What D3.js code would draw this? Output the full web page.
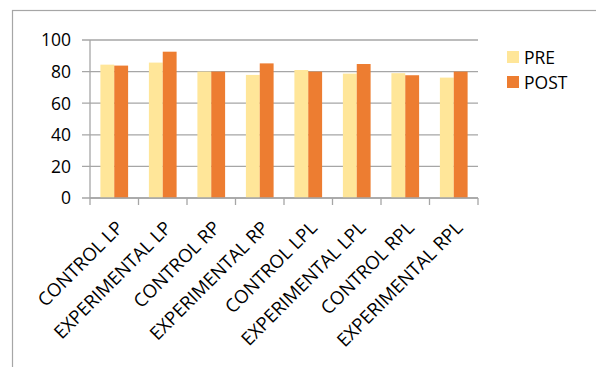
<!DOCTYPE html>
<html>
<head>
<meta charset="utf-8">
<script src="https://cdn.jsdelivr.net/npm/d3@7"></script>
<style>
  html, body { margin: 0; padding: 0; background: #fff; }
  svg { display: block; font-family: "Open Sans", Lato, sans-serif; }
</style>
</head>
<body>
<svg id="chart" width="596" height="367"></svg>
<script>
// Group scores before and after the intervention
const categories = ["CONTROL LP", "EXPERIMENTAL LP", "CONTROL RP", "EXPERIMENTAL RP",
                    "CONTROL LPL", "EXPERIMENTAL LPL", "CONTROL RPL", "EXPERIMENTAL RPL"];
const preValues  = [84.4, 85.7, 80.0, 77.9, 81.0, 78.7, 79.0, 76.2];
const postValues = [83.8, 92.6, 80.0, 85.2, 80.0, 84.8, 77.7, 80.0];
const seriesNames = ["PRE", "POST"];
const yTicks = [0, 20, 40, 60, 80, 100];

const colors = { PRE: "#FFE699", POST: "#ED7D31" };
const gridColor = "#A6A6A6";
const fontSize = 17.5;
const labelFontSize = 18.5;

const svg = d3.select("#chart");

// outer chart frame
svg.append("rect")
  .attr("x", 12.5).attr("y", 10.5)
  .attr("width", 700).attr("height", 700)
  .attr("fill", "none").attr("stroke", "#A6A6A6").attr("stroke-width", 1.2);

const plot = { left: 90, right: 478, top: 40, bottom: 198 };

const x = d3.scaleBand()
  .domain(categories)
  .range([plot.left, plot.right])
  .paddingInner(0).paddingOuter(0);

// Excel-style 150% gap width: two bars plus 1.5 bar widths of gap per category
const barW = x.bandwidth() / 3.5;
const xs = d3.scaleBand().domain(seriesNames).range([0, barW * 2]);

const y = d3.scaleLinear().domain([0, 100]).range([plot.bottom, plot.top]);

// horizontal gridlines
svg.append("g")
  .selectAll("line")
  .data(yTicks)
  .join("line")
  .attr("x1", plot.left - 8).attr("x2", plot.right)
  .attr("y1", d => y(d)).attr("y2", d => y(d))
  .attr("stroke", gridColor).attr("stroke-width", 1.3);

// y axis line
svg.append("line")
  .attr("x1", plot.left).attr("x2", plot.left)
  .attr("y1", y(100)).attr("y2", plot.bottom)
  .attr("stroke", gridColor).attr("stroke-width", 1.3);

// y tick labels
svg.append("g")
  .selectAll("text")
  .data(yTicks)
  .join("text")
  .attr("x", 71).attr("y", d => y(d))
  .attr("dy", "0.36em")
  .attr("text-anchor", "end")
  .attr("font-size", fontSize)
  .attr("fill", "#000")
  .text(d => d);

// bars
const rows = categories.map((c, i) => ({ cat: c, PRE: preValues[i], POST: postValues[i] }));
const groups = svg.append("g")
  .selectAll("g")
  .data(rows)
  .join("g")
  .attr("transform", d => `translate(${x(d.cat) + (x.bandwidth() - barW * 2) / 2},0)`);

groups.selectAll("rect")
  .data(d => seriesNames.map(s => ({ s, v: d[s] })))
  .join("rect")
  .attr("x", d => xs(d.s))
  .attr("width", xs.bandwidth())
  .attr("y", d => y(d.v))
  .attr("height", d => y(0) - y(d.v))
  .attr("fill", d => colors[d.s]);

// x axis baseline and tick marks at category boundaries
svg.append("line")
  .attr("x1", plot.left).attr("x2", plot.right)
  .attr("y1", plot.bottom).attr("y2", plot.bottom)
  .attr("stroke", gridColor).attr("stroke-width", 1.3);

const boundaries = categories.map(c => x(c)).concat([plot.right]);
svg.append("g")
  .selectAll("line")
  .data(boundaries)
  .join("line")
  .attr("x1", d => d).attr("x2", d => d)
  .attr("y1", plot.bottom).attr("y2", plot.bottom + 7)
  .attr("stroke", gridColor).attr("stroke-width", 1.3);

// rotated category labels
svg.append("g")
  .selectAll("text")
  .data(categories)
  .join("text")
  .attr("transform", d => `translate(${x(d) + x.bandwidth() / 2 + 10},${plot.bottom + 31}) rotate(-45)`)
  .attr("text-anchor", "end")
  .attr("font-size", labelFontSize)
  .attr("fill", "#000")
  .text(d => d);

// legend
const legend = svg.append("g")
  .selectAll("g")
  .data(seriesNames)
  .join("g")
  .attr("transform", (d, i) => `translate(507,${51 + i * 25})`);

legend.append("rect")
  .attr("width", 12).attr("height", 12)
  .attr("fill", d => colors[d]);

legend.append("text")
  .attr("x", 17).attr("y", 12.5)
  .attr("font-size", fontSize)
  .attr("fill", "#000")
  .text(d => d);
</script>
</body>
</html>
